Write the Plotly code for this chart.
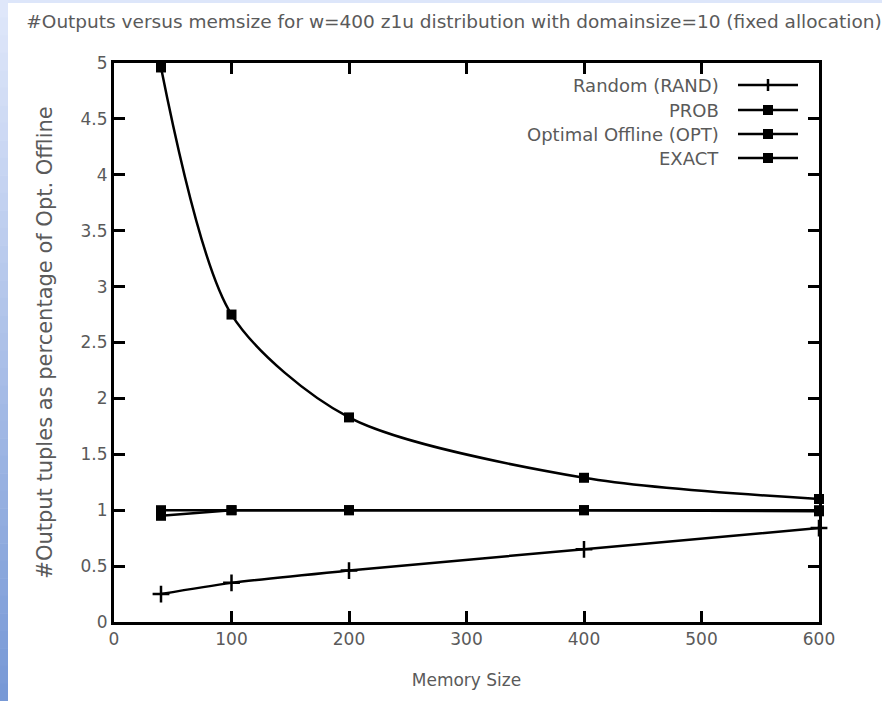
import plotly.graph_objects as go

# ---------------- data ----------------
memory_size = [40, 100, 200, 400, 600]
rand_vals = [0.25, 0.35, 0.46, 0.65, 0.84]
prob_vals = [4.96, 2.75, 1.83, 1.29, 1.10]
opt_vals = [1.0, 1.0, 1.0, 1.0, 1.0]
exact_vals = [0.95, 1.0, 1.0, 1.0, 0.99]

series_names = ["Random (RAND)", "PROB", "Optimal Offline (OPT)", "EXACT"]
x_ticks = [0, 100, 200, 300, 400, 500, 600]
y_ticks = [0, 0.5, 1, 1.5, 2, 2.5, 3, 3.5, 4, 4.5, 5]
y_tick_text = ["0", "0.5", "1", "1.5", "2", "2.5", "3", "3.5", "4", "4.5", "5"]

title_text = "#Outputs versus memsize for w=400 z1u distribution with domainsize=10 (fixed allocation)"
x_title = "Memory Size"
y_title = "#Output tuples as percentage of Opt. Offline"

# ---------------- layout geometry ----------------
W, H = 882, 701
L, R, T, B = 114, 819, 63, 622  # plot area in pixels
FONT = "DejaVu Sans"
TXT = "#5a5a5a"


def px(x):
    return (x - L) / (R - L)


def py(y):
    return (B - y) / (B - T)


fig = go.Figure()

spline_style = dict(color="black", width=2.5, shape="spline", smoothing=0.8)
linear_style = dict(color="black", width=2.5, shape="linear")

fig.add_trace(go.Scatter(x=memory_size, y=rand_vals, mode="lines+markers",
                         line=spline_style,
                         marker=dict(symbol="cross-thin", size=12,
                                     line=dict(color="black", width=2.5)),
                         name=series_names[0], cliponaxis=False))
for vals, nm, st in [(prob_vals, series_names[1], spline_style),
                     (opt_vals, series_names[2], linear_style),
                     (exact_vals, series_names[3], linear_style)]:
    fig.add_trace(go.Scatter(x=memory_size, y=vals, mode="lines+markers",
                             line=st,
                             marker=dict(symbol="square", size=10, color="black",
                                         line=dict(width=0)),
                             name=nm, cliponaxis=False))

shapes = []
# slide background: light top strip and blue gradient on the left
shapes.append(dict(type="rect", xref="paper", yref="paper",
                   x0=px(0), x1=px(W), y0=py(0), y1=py(3),
                   fillcolor="#dde6fa", line=dict(width=0), layer="below"))
n = 40
c0 = (223, 231, 250)
c1 = (120, 153, 214)
for i in range(n):
    t = i / (n - 1)
    c = tuple(int(round(c0[k] + (c1[k] - c0[k]) * t)) for k in range(3))
    y0 = H * i / n
    y1 = H * (i + 1) / n
    shapes.append(dict(type="rect", xref="paper", yref="paper",
                       x0=px(0), x1=px(8), y0=py(y0), y1=py(y1 + 0.5),
                       fillcolor="rgb(%d,%d,%d)" % c, line=dict(width=0),
                       layer="below"))

# custom legend (text on the left, sample on the right)
rows = [85, 110, 134, 158]
annotations = []
for i, (nm, ry) in enumerate(zip(series_names, rows)):
    annotations.append(dict(text=nm, xref="paper", yref="paper",
                            x=px(721), y=py(ry), xanchor="right", yanchor="middle",
                            showarrow=False, font=dict(family=FONT, size=18, color=TXT)))
    shapes.append(dict(type="line", xref="paper", yref="paper",
                       x0=px(738), x1=px(798), y0=py(ry), y1=py(ry),
                       line=dict(color="black", width=2.5)))
    if i == 0:
        shapes.append(dict(type="line", xref="paper", yref="paper",
                           x0=px(768), x1=px(768), y0=py(ry - 6), y1=py(ry + 6),
                           line=dict(color="black", width=2.5)))
    else:
        shapes.append(dict(type="rect", xref="paper", yref="paper",
                           x0=px(763), x1=px(773), y0=py(ry - 5), y1=py(ry + 5),
                           fillcolor="black", line=dict(width=0)))

fig.update_layout(
    width=W, height=H, autosize=False,
    margin=dict(l=L, r=W - R, t=T, b=H - B, pad=0),
    paper_bgcolor="white", plot_bgcolor="white",
    showlegend=False,
    title=dict(text=title_text, x=px(454), xref="paper", xanchor="center",
               y=1 - 22 / H, yref="container", yanchor="middle",
               font=dict(family=FONT, size=18.5, color=TXT)),
    font=dict(family=FONT, size=17, color=TXT),
    shapes=shapes,
    annotations=annotations,
)

axis_common = dict(showgrid=False, zeroline=False, showline=True, linecolor="black",
                   linewidth=3, mirror="ticks", ticks="inside", ticklen=11,
                   tickwidth=2.5, tickcolor="black",
                   tickfont=dict(family=FONT, size=17, color=TXT))

fig.update_xaxes(range=[0, 600], tickvals=x_ticks,
                 title=dict(text=x_title, font=dict(family=FONT, size=17, color=TXT),
                            standoff=26),
                 **axis_common)
fig.update_yaxes(range=[0, 5], tickvals=y_ticks, ticktext=y_tick_text,
                 title=dict(text=y_title, font=dict(family=FONT, size=21, color=TXT),
                            standoff=23),
                 **axis_common)

fig.write_html("out.html")
